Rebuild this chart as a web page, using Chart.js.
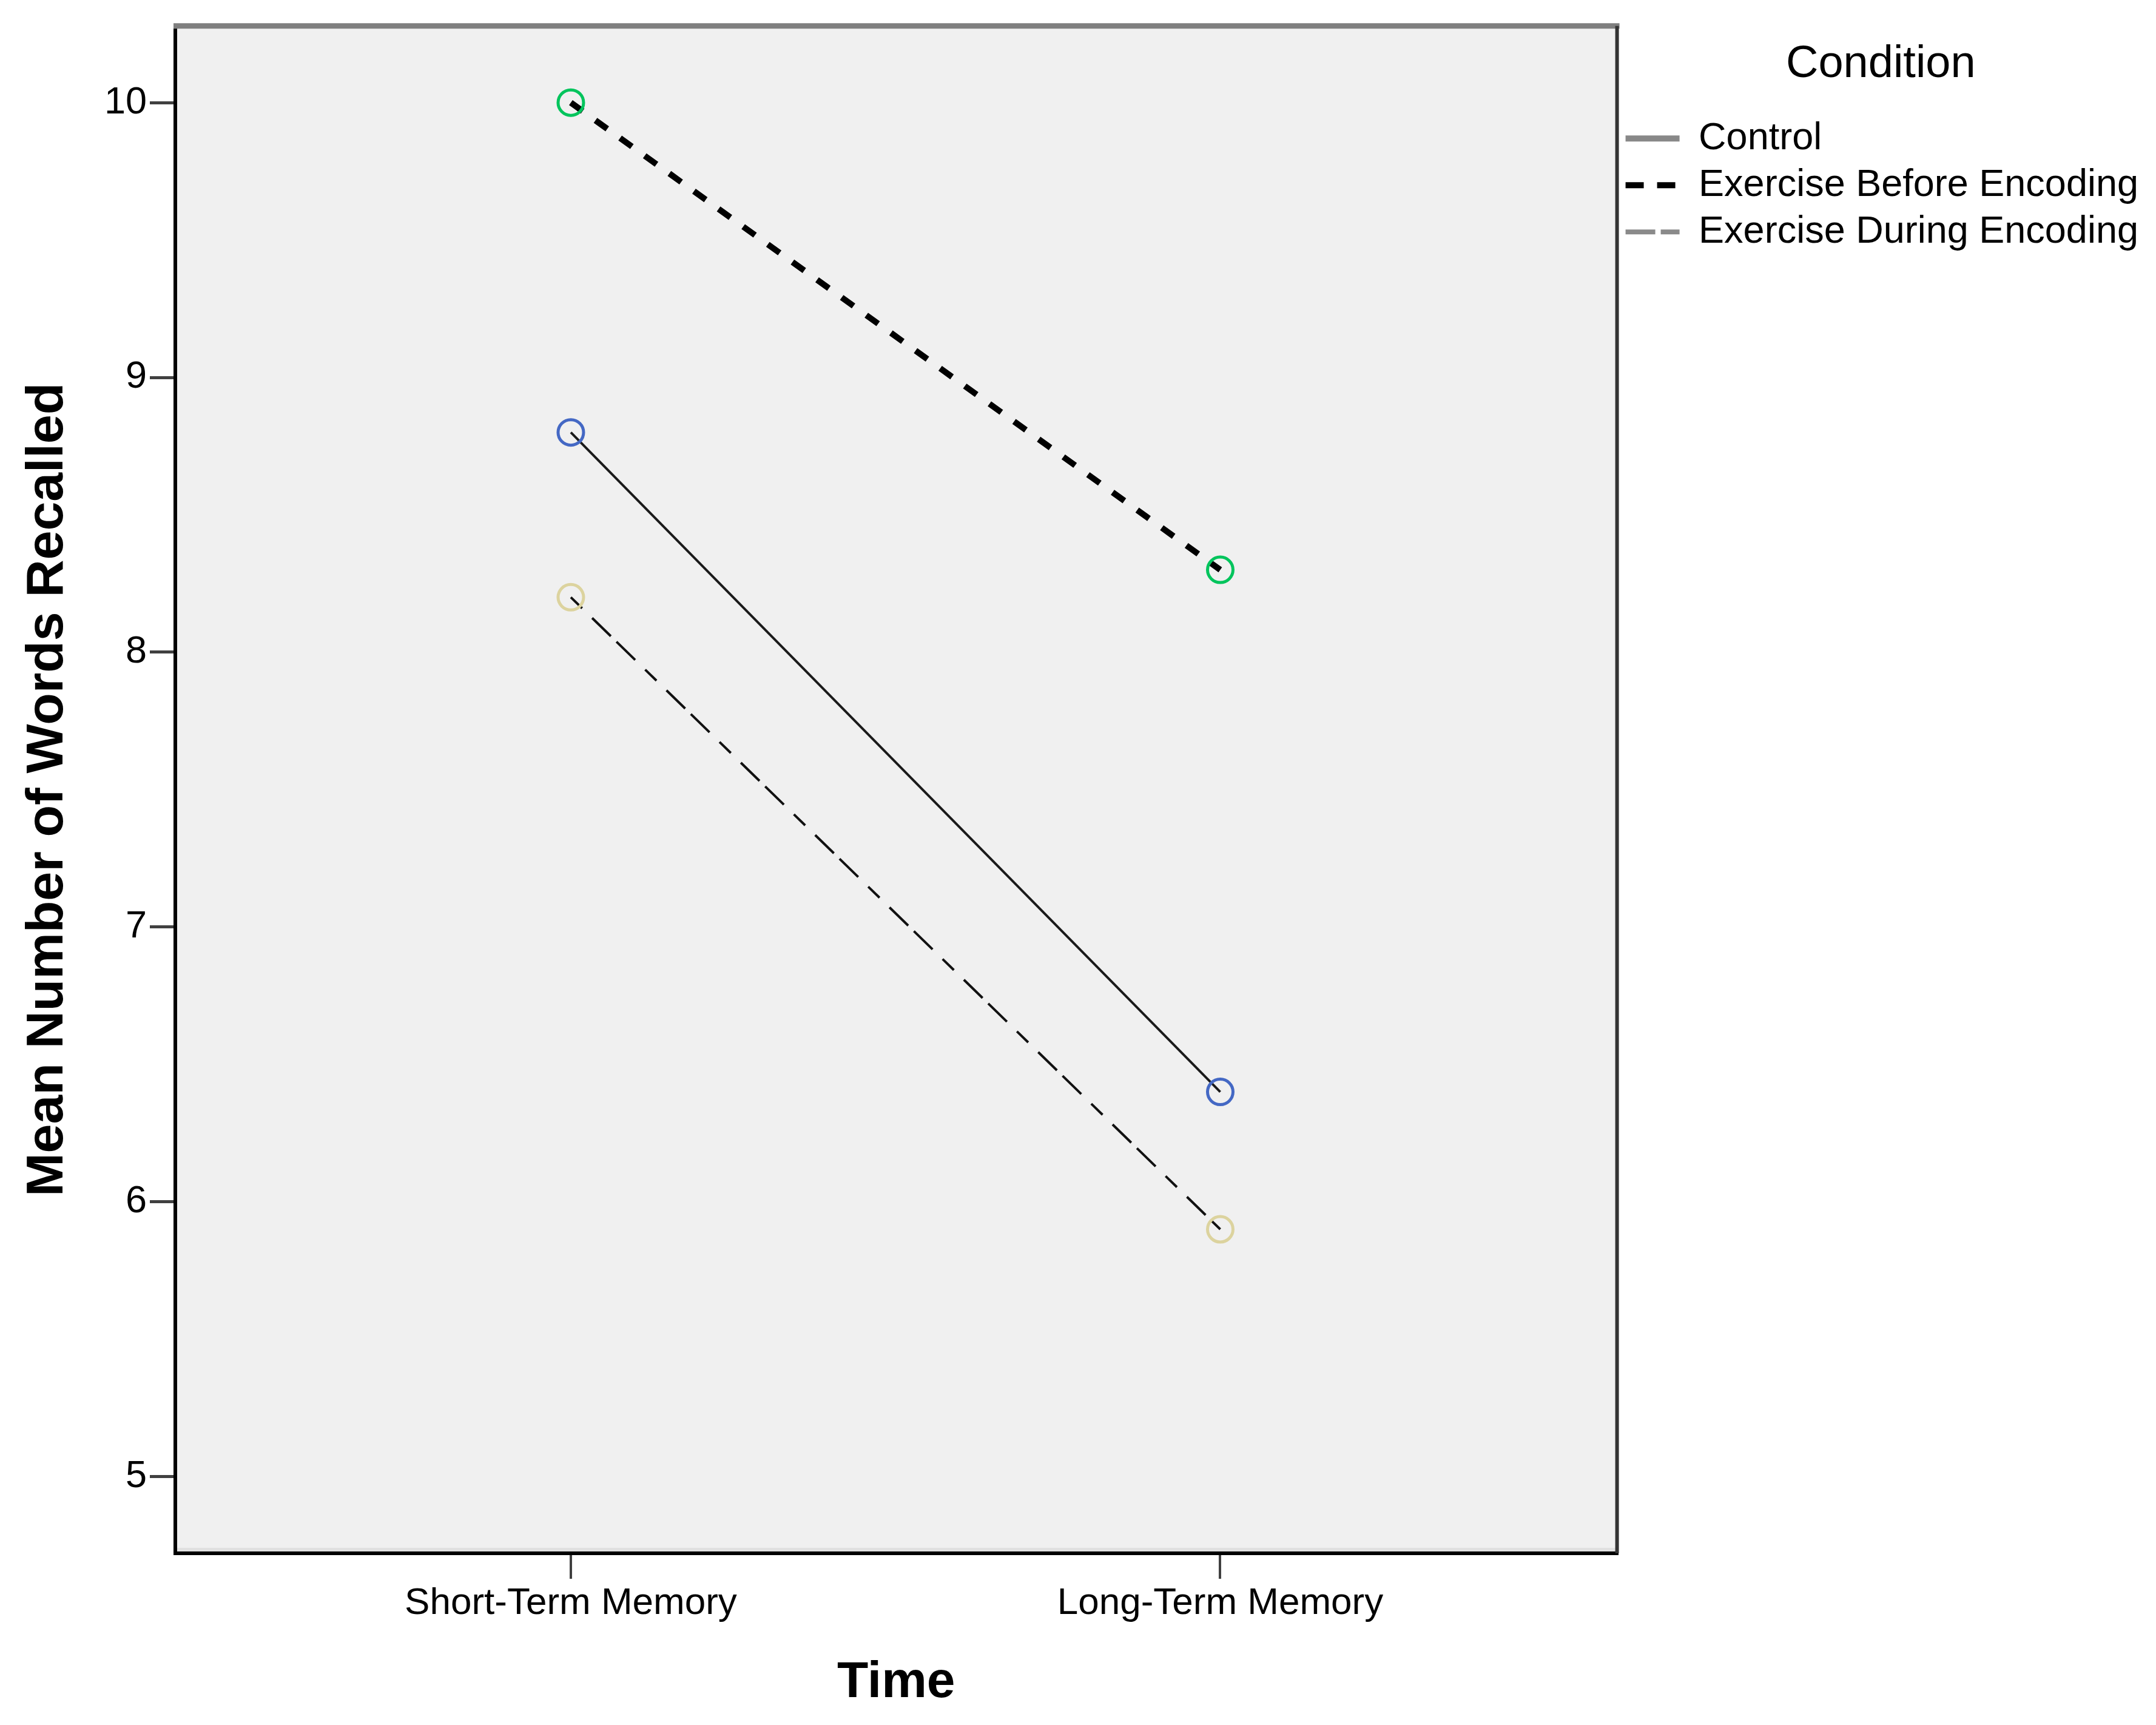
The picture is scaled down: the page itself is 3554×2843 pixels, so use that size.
<!DOCTYPE html>
<html>
<head>
<title>Mean Number of Words Recalled</title>
<style>
  body { margin: 0; background: #ffffff; }
  #box { width: 3554px; height: 2843px; }
</style>
</head>
<body>
<div id="box"><canvas id="RecallChart" width="3554" height="2843"></canvas></div>
<script src="https://cdn.jsdelivr.net/npm/chart.js"></script>
<script>
// data
const timeLabels = ['Short-Term Memory', 'Long-Term Memory'];
const timeX = [1, 2];
const conditionNames = ['Control', 'Exercise Before Encoding', 'Exercise During Encoding'];
const controlMeans = [8.8, 6.4];
const beforeMeans = [10.0, 8.3];
const duringMeans = [8.2, 5.9];
const yTicks = [5, 6, 7, 8, 9, 10];

const FONT = '"Liberation Sans", Arial, sans-serif';

function toPoints(vals) {
    return vals.map((v, i) => ({ x: timeX[i], y: v }));
}

// grey plot panel + top/right frame
const panel = {
    id: 'panel',
    beforeDraw(chart) {
        const a = chart.chartArea, c = chart.ctx;
        c.save();
        c.fillStyle = '#f0f0f0';
        c.fillRect(a.left, a.top, a.right - a.left, a.bottom - a.top);
        c.fillStyle = '#e0e0e0';
        c.fillRect(a.left, a.bottom - 9, a.right - a.left, 6);
        c.restore();
    },
    afterDraw(chart) {
        const a = chart.chartArea, c = chart.ctx;
        c.save();
        c.strokeStyle = '#7f7f7f';
        c.lineWidth = 9;
        c.beginPath();
        c.moveTo(a.left - 3, a.top);
        c.lineTo(a.right + 4, a.top);
        c.stroke();
        c.strokeStyle = '#333333';
        c.lineWidth = 6;
        c.beginPath();
        c.moveTo(a.right, a.top);
        c.lineTo(a.right, a.bottom);
        c.stroke();
        c.restore();
    }
};

const ctx = document.getElementById('RecallChart');
new Chart(ctx, {
    type: 'line',
    data: {
        datasets: [{
            label: conditionNames[0],
            data: toPoints(controlMeans),
            borderColor: '#1a1a1a',
            borderWidth: 4,
            pointRadius: 21,
            pointBorderWidth: 5,
            pointBorderColor: '#4468c4',
            pointBackgroundColor: 'rgba(0,0,0,0)'
        }, {
            label: conditionNames[1],
            data: toPoints(beforeMeans),
            borderColor: '#000000',
            borderWidth: 10,
            borderDash: [24, 26],
            pointRadius: 21,
            pointBorderWidth: 5,
            pointBorderColor: '#00c45c',
            pointBackgroundColor: 'rgba(0,0,0,0)'
        }, {
            label: conditionNames[2],
            data: toPoints(duringMeans),
            borderColor: '#111111',
            borderWidth: 4,
            borderDash: [26, 23, 43, 13, 43, 23],
            pointRadius: 21,
            pointBorderWidth: 5,
            pointBorderColor: '#dcd39e',
            pointBackgroundColor: 'rgba(0,0,0,0)'
        }]
    },
    options: {
        responsive: false,
        devicePixelRatio: 1,
        animation: false,
        events: [],
        layout: { padding: { top: 32, left: 0, right: 19, bottom: 0 } },
        plugins: {
            tooltip: { enabled: false },
            legend: {
                position: 'right',
                align: 'start',
                title: {
                    display: true,
                    text: 'Condition',
                    color: '#000',
                    font: { family: FONT, size: 74 },
                    padding: { top: 38, bottom: 24 }
                },
                labels: {
                    usePointStyle: true,
                    pointStyleWidth: 89,
                    padding: 14,
                    color: '#000',
                    font: { family: FONT, size: 63 },
                    generateLabels() {
                        const styles = [
                            { c: '#888888', w: 10, d: [] },
                            { c: '#000000', w: 10, d: [30, 22] },
                            { c: '#8a8a8a', w: 8, d: [49, 9, 36, 20] }
                        ];
                        return conditionNames.map((n, i) => ({
                            text: n,
                            fontColor: '#000',
                            strokeStyle: styles[i].c,
                            fillStyle: styles[i].c,
                            lineWidth: styles[i].w,
                            lineDash: styles[i].d,
                            pointStyle: 'line',
                            hidden: false,
                            datasetIndex: i
                        }));
                    }
                }
            }
        },
        scales: {
            x: {
                type: 'linear',
                min: 0.391,
                max: 2.611,
                afterBuildTicks(scale) {
                    scale.ticks = timeX.map(v => ({ value: v }));
                },
                afterFit(scale) { scale.height = 283; },
                ticks: {
                    color: '#000',
                    padding: 4,
                    maxRotation: 0,
                    font: { family: FONT, size: 62 },
                    callback(v) {
                        const i = timeX.indexOf(v);
                        return i >= 0 ? timeLabels[i] : '';
                    }
                },
                grid: { drawOnChartArea: false, tickLength: 42, color: '#404040', lineWidth: 4 },
                border: { display: true, color: '#000', width: 6 },
                title: {
                    display: true,
                    text: 'Time',
                    color: '#000',
                    font: { family: FONT, size: 84, weight: 'bold' },
                    padding: { top: 0, bottom: 19 }
                }
            },
            y: {
                min: 4.721,
                max: 10.279,
                afterBuildTicks(scale) {
                    scale.ticks = yTicks.map(v => ({ value: v }));
                },
                afterFit(scale) { scale.width = 289; },
                ticks: {
                    color: '#000',
                    padding: 5,
                    font: { family: FONT, size: 63 }
                },
                grid: { drawOnChartArea: false, tickLength: 42, color: '#404040', lineWidth: 5 },
                border: { display: true, color: '#000', width: 6 },
                title: {
                    display: true,
                    text: 'Mean Number of Words Recalled',
                    color: '#000',
                    font: { family: FONT, size: 86, weight: 'bold' },
                    padding: { top: 28, bottom: 0 }
                }
            }
        }
    },
    plugins: [panel]
});
</script>
</body>
</html>
